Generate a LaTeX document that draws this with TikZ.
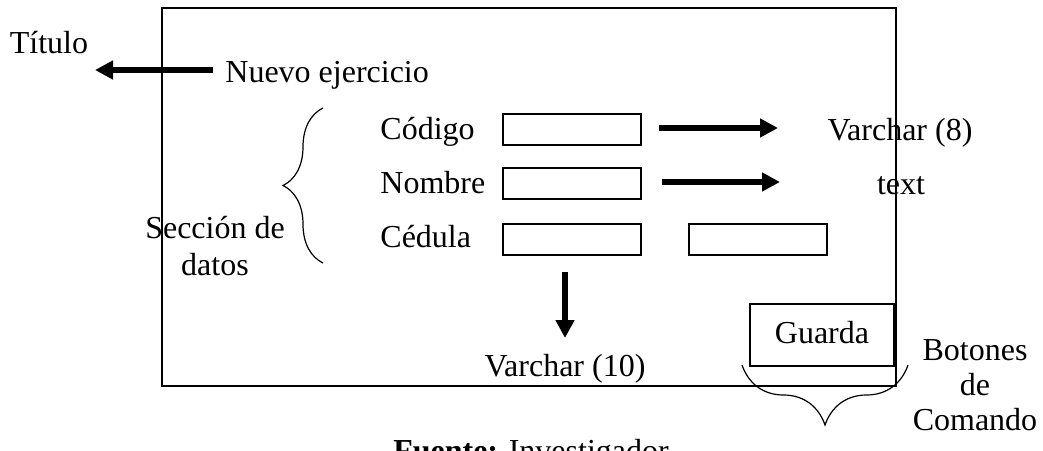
\documentclass[tikz,border=0pt]{standalone}
\usepackage{fontspec}
\setmainfont{Liberation Serif}
\usetikzlibrary{positioning}
\usetikzlibrary{arrows.meta}
\usetikzlibrary{decorations.pathreplacing}

\begin{document}
\begin{tikzpicture}[
            x=0.5pt, y=-0.5pt,
            font=\fontsize{16}{17.5}\selectfont,
            >={Triangle[length=9pt, width=9pt]},
            bigarrow/.style={->, line width=3pt},
            field/.style={draw, line width=1pt, minimum width=69pt, minimum height=15.5pt, inner sep=0pt},
            txt/.style={inner sep=0pt, anchor=base},
            curly/.style={decorate, decoration={brace, amplitude=#1}, line width=0.6pt}
        ]
            \useasboundingbox (0,0) rectangle (1043,450);

            % Window
            \node[draw, line width=1pt, anchor=north west, inner sep=0pt, minimum width=367pt, minimum height=189pt] (window) at (161,7) {};

            % Title
            \node[txt] (titulo) at (49,53) {Título};
            \node[txt, anchor=base west] (nuevo) at (225,82) {Nuevo ejercicio};
            \coordinate (tituloend) at (95,70);
            \draw[bigarrow, shorten <=6pt] (nuevo.west |- tituloend) -- (tituloend);

            % Fields
            \node[txt, anchor=base west] (codigo) at (380,139) {Código};
            \node[txt, anchor=base west] (nombre) at (380,193) {Nombre};
            \node[txt, anchor=base west] (cedula) at (380,247) {Cédula};
            \node[field, anchor=north west] (codbox) at (502,113) {};
            \node[field, anchor=north west] (nombox) at (502,167) {};
            \node[field, anchor=north west] (cedbox) at (502,223) {};
            \node[field, anchor=north west] (extrabox) at (688,223) {};

            % Types
            \node[txt] (varcharocho) at (900,140) {Varchar (8)};
            \node[txt] (textlbl) at (901,194) {text};
            \node[txt] (varchardiez) at (565,376) {Varchar (10)};
            \coordinate (codend) at (778,128);
            \coordinate (nomend) at (780,182);
            \coordinate (cedend) at (565,338);
            \draw[bigarrow, shorten <=8.5pt] (codbox.east |- codend) -- (codend);
            \draw[bigarrow, shorten <=10pt] (nombox.east |- nomend) -- (nomend);
            \draw[bigarrow, shorten <=8pt] (cedend |- cedbox.south) -- (cedend);

            % Section
            \node[txt, align=center, font=\fontsize{16}{18.5}\selectfont] (seccion) at (215,275) {Sección de\\datos};
            \coordinate (seccionbot) at (323,263);
            \coordinate (secciontop) at (323,108);
            \draw[curly=20pt] (seccionbot) -- (secciontop);

            % Buttons
            \node[draw, line width=1pt, anchor=north west, inner sep=0pt, minimum width=72pt, minimum height=31pt] (guardabox) at (749,303) {};
            \node[txt] (guarda) at (guardabox.center |- 0,343) {Guarda};
            \coordinate (botonesright) at (908,365);
            \coordinate (botonesleft) at (742,365);
            \draw[curly=30pt] (botonesright) -- (botonesleft);
            \node[txt, align=center, font=\fontsize{16}{17.5}\selectfont] (botones) at (975,430) {Botones\\de\\Comando};

            % Source
            \node[txt] (fuente) at (531,461) {\textbf{Fuente:} Investigador};
        \end{tikzpicture}
\end{document}
